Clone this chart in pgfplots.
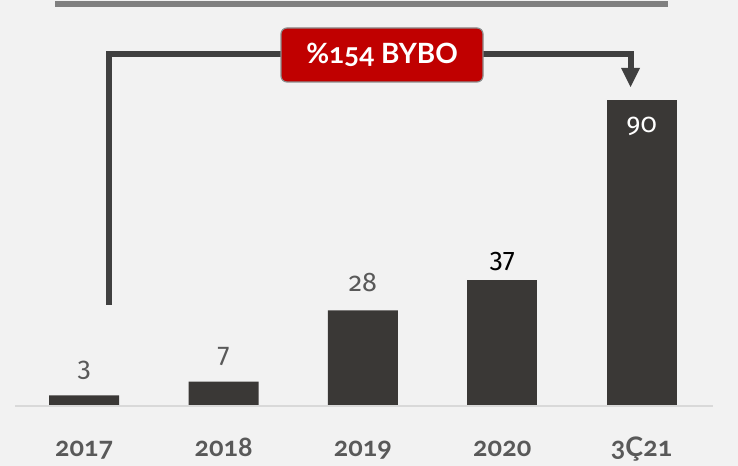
\documentclass[border=0pt]{standalone}
\usepackage{fontspec}
\setmainfont{Lato}[Numbers=OldStyle]
\newfontfamily\numfont{Fira Sans}[Numbers=OldStyle]
\usepackage{pgfplots}
\pgfplotsset{compat=1.18}
\definecolor{bg}{HTML}{F2F2F2}
\definecolor{bardark}{HTML}{3A3836}
\definecolor{txtgray}{HTML}{595959}
\definecolor{bracket}{HTML}{404040}
\definecolor{redbox}{HTML}{C00000}

\begin{document}
\begin{tikzpicture}
\begin{axis}[
  scale only axis, width=738bp, height=466bp,
  xmin=-0.6042, xmax=4.6918, ymin=-17.83, ymax=119.48,
  axis background/.style={fill=bg},
  axis line style={draw=none},
  ytick=\empty,
  xtick={0,1,2,3,4},
  xticklabels={2017,2018,2019,2020,3Ç21},
  xtick style={draw=none},
  xticklabel style={font=\fontsize{27}{30}\selectfont\bfseries, text=txtgray,
    anchor=base, yshift=14bp},
  /pgf/number format/assume math mode=true,
  ybar, bar width=70bp, bar shift=0pt,
  clip=false,
]
% 2017-2019 labels above
\addplot[fill=bardark, draw=none, nodes near coords,
  nodes near coords style={font=\numfont\fontsize{27}{32}\selectfont, text=txtgray,
    anchor=base, yshift=19bp}]
  coordinates {(0,3) (1,7) (2,28)};
% 2020
\addplot[fill=bardark, draw=none, nodes near coords,
  nodes near coords style={font=\numfont\fontsize{27}{32}\selectfont\addfontfeature{Numbers=Lining},
    text=black, anchor=base, yshift=9bp}]
  coordinates {(3,37)};
% 3Q21 label inside the bar
\addplot[fill=bardark, draw=none, nodes near coords,
  nodes near coords style={font=\numfont\fontsize{27}{32}\selectfont, text=white,
    anchor=base, yshift=-32bp}]
  coordinates {(4,90)};
\end{axis}
% annotations in pixel units from the top-left corner
\begin{scope}[shift={(current axis.north west)}, x=1bp, y=-1bp]
  \draw[line width=2bp, black!15] (15,406.5) -- (713,406.5);
  \draw[line width=6bp, black!50] (55,4) -- (668,4);
  \draw[line width=6bp, bracket] (108.5,305) -- (108.5,54) -- (630.5,54) -- (630.5,70);
  \fill[bracket] (621,68) -- (640,68) -- (630.5,87) -- cycle;
  \node[fill=redbox, draw=black!45, line width=1.2bp, rounded corners=6bp,
    minimum width=202bp, minimum height=54bp, text=white,
    font=\fontsize{28}{30}\selectfont\bfseries] at (382,55) {\%154 BYBO};
  \pgfresetboundingbox
  \path[use as bounding box] (0,0) rectangle (738,466);
\end{scope}
\end{tikzpicture}
\end{document}
